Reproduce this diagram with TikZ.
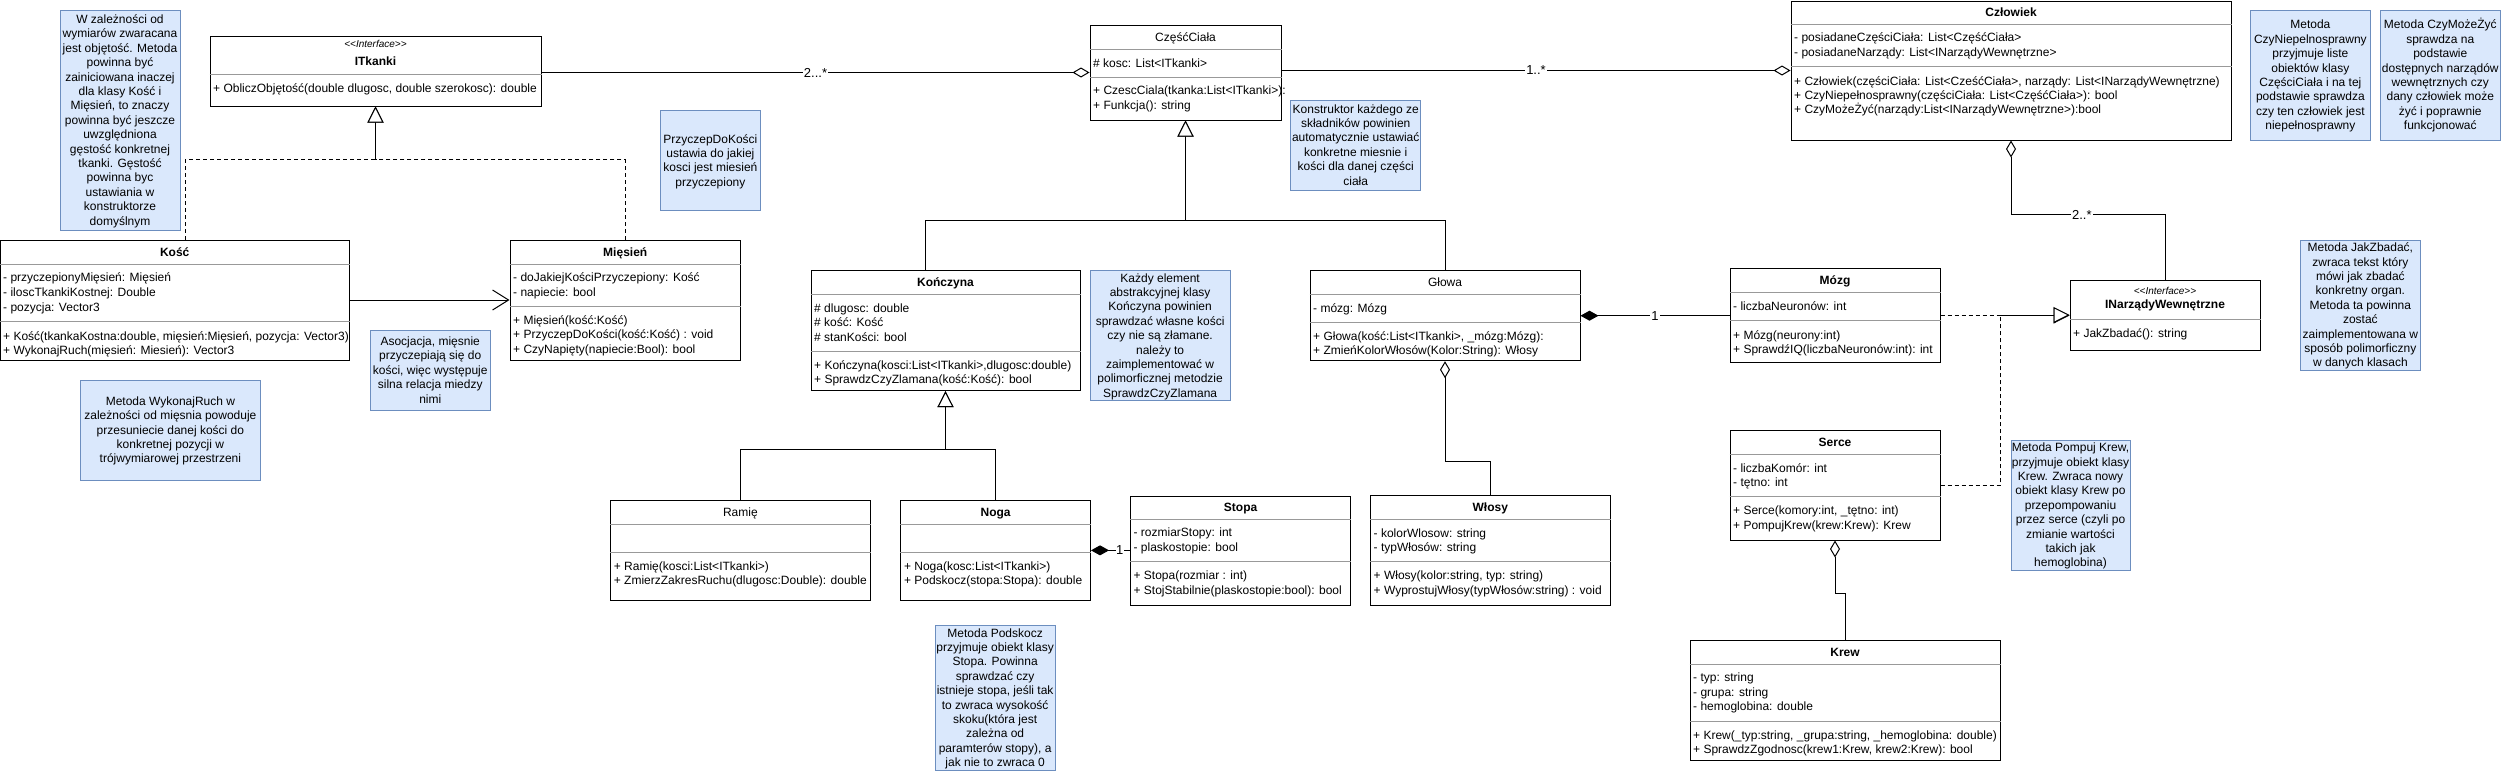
\documentclass[tikz,border=0pt]{standalone}
\usepackage{fontspec}
\setmainfont{Liberation Sans}
\usetikzlibrary{arrows.meta,fit}
\definecolor{notef}{HTML}{DAE8FC}
\definecolor{noteb}{HTML}{6C8EBF}
\newcommand\fsz{\fontsize{12}{14.4}\selectfont}
\newcommand\mylw[5]{\foreach \tx [count=\ii] in {#5} {\node[tl] (#1\ii) at (#2,{#3+4+(\ii-1)*#4}) {\tx};}}
\newcommand\mylc[5]{\foreach \tx [count=\ii] in {#5} {\node[tc] (#1\ii) at (#2,{#3+4+(\ii-1)*#4}) {\tx};}}
\newcommand\mydv[2]{\draw[dv] (#1.west |- 0,#2) -- (#1.east |- 0,#2);}
\newcommand\ster{<\kern0pt<Interface>\kern0pt>}
\tikzset{
  cls/.style={draw=black, line width=1pt, fill=white, inner sep=0pt},
  nt/.style={draw=noteb, line width=1pt, fill=notef, inner sep=0pt},
  dv/.style={draw=black!40, line width=1pt},
  tl/.style={anchor=base west, inner sep=0pt, font=\fsz},
  tc/.style={anchor=base, inner sep=0pt, font=\fsz},
  ttl/.style={anchor=base, inner sep=0pt, font=\fsz\bfseries},
  ttr/.style={anchor=base, inner sep=0pt, font=\fsz},
  stt/.style={anchor=base, inner sep=0pt, font=\fontsize{10}{12}\selectfont\itshape},
  lbl/.style={fill=white, inner sep=1pt, font=\fontsize{13}{15}\selectfont},
  conn/.style={line width=1pt, draw=black},
  realize/.style={conn, dash pattern=on 4pt off 3pt, -{Triangle[length=16pt,width=16pt,fill=white]}},
  gen/.style={conn, -{Triangle[length=16pt,width=16pt,fill=white]}},
  assoc/.style={conn, -{Straight Barb[length=16pt,width=20pt]}},
  aggr/.style={conn, {Diamond[length=17pt,width=10pt,fill=white]}-},
  aggrE/.style={conn, -{Diamond[length=17pt,width=10pt,fill=white]}},
  comp/.style={conn, {Diamond[length=18pt,width=10pt]}-},
}
\begin{document}
\begin{tikzpicture}[x=1pt,y=-1pt]
\useasboundingbox (0,0) rectangle (2501,772);
\fill[white] (0,0) rectangle (2501,772);

% ---------- notes ----------
\node[nt, fit={(60,10) (180,230.7)}] (n1) {};
\mylc{n1l}{120}{19.5}{14.4}{{W zależności od},{wymiarów zwaracana},{jest objętość. Metoda},{powinna być},{zainiciowana inaczej},{dla klasy Kość i},{Mięsień, to znaczy},{powinna być jeszcze},{uwzględniona},{gęstość konkretnej},{tkanki. Gęstość},{powinna byc},{ustawiania w},{konstruktorze},{domyślnym}}
\node[nt, fit={(660,110.7) (760.7,210.7)}] (n2) {};
\mylc{n2l}{710.35}{139.1}{14.4}{{PrzyczepDoKości},{ustawia do jakiej},{kosci jest miesień},{przyczepiony}}
\node[nt, fit={(1290.7,100) (1420.7,190)}] (n3) {};
\mylc{n3l}{1355.7}{109}{14.4}{{Konstruktor każdego ze},{składników powinien},{automatycznie ustawiać},{konkretne miesnie i},{kości dla danej części},{ciała}}
\node[nt, fit={(1090,270.7) (1230.3,400.7)}] (n4) {};
\mylc{n4l}{1160.15}{278.1}{14.4}{{Każdy element},{abstrakcyjnej klasy},{Kończyna powinien},{sprawdzać własne kości},{czy nie są złamane.},{należy to},{zaimplementować w},{polimorficznej metodzie},{SprawdzCzyZlamana}}
\node[nt, fit={(2250,10.7) (2370.7,140)}] (n5) {};
\mylc{n5l}{2310.35}{24.95}{14.4}{{Metoda},{CzyNiepelnosprawny},{przyjmuje liste},{obiektów klasy},{CzęściCiała i na tej},{podstawie sprawdza},{czy ten człowiek jest},{niepełnosprawny}}
\node[nt, fit={(2380,10.7) (2500.5,140)}] (n6) {};
\mylc{n6l}{2440.25}{24.95}{14.4}{{Metoda CzyMożeŻyć},{sprawdza na},{podstawie},{dostępnych narządów},{wewnętrznych czy},{dany człowiek może},{żyć i poprawnie},{funkcjonować}}
\node[nt, fit={(2300,240) (2420.7,370.7)}] (n7) {};
\mylc{n7l}{2360.35}{247.75}{14.4}{{Metoda JakZbadać,},{zwraca tekst który},{mówi jak zbadać},{konkretny organ.},{Metoda ta powinna},{zostać},{zaimplementowana w},{sposób polimorficzny},{w danych klasach}}
\node[nt, fit={(370,330) (490.5,410.7)}] (n8) {};
\mylc{n8l}{430.25}{341.55}{14.4}{{Asocjacja, mięsnie},{przyczepiają się do},{kości, więc występuje},{silna relacja miedzy},{nimi}}
\node[nt, fit={(80,380) (260.8,480)}] (n9) {};
\mylc{n9l}{170.4}{401.2}{14.4}{{Metoda WykonajRuch w},{zależności od mięsnia powoduje},{przesuniecie danej kości do},{konkretnej pozycji w},{trójwymiarowej przestrzeni}}
\node[nt, fit={(935.3,625) (1055,770.7)}] (n10) {};
\mylc{n10l}{995.15}{633.05}{14.4}{{Metoda Podskocz},{przyjmuje obiekt klasy},{Stopa. Powinna},{sprawdzać czy},{istnieje stopa, jeśli tak},{to zwraca wysokość},{skoku(która jest},{zależna od},{paramterów stopy), a},{jak nie to zwraca 0}}
\node[nt, fit={(2011,440) (2130,570.7)}] (n11) {};
\mylc{n11l}{2070.5}{447.75}{14.4}{{Metoda Pompuj Krew,},{przyjmuje obiekt klasy},{Krew. Zwraca nowy},{obiekt klasy Krew po},{przepompowaniu},{przez serce (czyli po},{zmianie wartości},{takich jak},{hemoglobina)}}

% ---------- classes ----------
% ITkanki
\node[cls, fit={(210,36) (541,106)}] (itk) {};
\mydv{itk}{74}
\node[stt] (itk-s) at (itk.north |- 0,47.5) {\ster};
\node[ttl] (itk-t) at (itk.north |- 0,65) {ITkanki};
\mylw{itkm}{213}{88}{14.4}{{+ ObliczObjętość(double dlugosc, double szerokosc): double}}

% CzescCiala
\node[cls, fit={(1090,25) (1281,120)}] (cc) {};
\mydv{cc}{49}\mydv{cc}{77}
\node[ttr] (cc-t) at (cc.north |- 0,41) {CzęśćCiała};
\mylw{cca}{1093}{63}{15}{{\# kosc: List<ITkanki>}}
\mylw{ccm}{1093}{90}{15}{{+ CzescCiala(tkanka:List<ITkanki>):},{+ Funkcja(): string}}

% Czlowiek
\node[cls, fit={(1791,1) (2231,140)}] (czl) {};
\mydv{czl}{24}\mydv{czl}{66}
\node[ttl] (czl-t) at (czl.north |- 0,16) {Człowiek};
\mylw{czla}{1794}{37}{15}{{- posiadaneCzęściCiała: List<CzęśćCiała>},{- posiadaneNarządy: List<INarządyWewnętrzne>}}
\mylw{czlm}{1794}{81}{14}{{+ Człowiek(częściCiała: List<CześćCiała>, narządy: List<INarządyWewnętrzne)},{+ CzyNiepełnosprawny(częściCiała: List<CzęśćCiała>): bool},{+ CzyMożeŻyć(narządy:List<INarządyWewnętrzne>):bool}}

% INarzadyWewnetrzne
\node[cls, fit={(2070,280) (2260,350)}] (narz) {};
\mydv{narz}{319}
\node[stt] (narz-s) at (narz.north |- 0,294.5) {\ster};
\node[ttl] (narz-t) at (narz.north |- 0,308.5) {INarządyWewnętrzne};
\mylw{narzm}{2073}{333}{14}{{+ JakZbadać(): string}}

% Kosc
\node[cls, fit={(0.5,240) (349,360)}] (kosc) {};
\mydv{kosc}{264}\mydv{kosc}{321}
\node[ttl] (kosc-t) at (kosc.north |- 0,256) {Kość};
\mylw{kosca}{3}{277.7}{15}{{- przyczepionyMięsień: Mięsień},{- iloscTkankiKostnej: Double},{- pozycja: Vector3}}
\mylw{koscm}{3}{336}{14.5}{{+ Kość(tkankaKostna:double, mięsień:Mięsień, pozycja: Vector3)},{+ WykonajRuch(mięsień: Miesień): Vector3}}

% Miesien
\node[cls, fit={(510,240) (740.5,360)}] (mies) {};
\mydv{mies}{264}\mydv{mies}{306}
\node[ttl] (mies-t) at (mies.north |- 0,256) {Mięsień};
\mylw{miesa}{513}{277.7}{15}{{- doJakiejKościPrzyczepiony: Kość},{- napiecie: bool}}
\mylw{miesm}{513}{320}{14.5}{{+ Mięsień(kość:Kość)},{+ PrzyczepDoKości(kość:Kość) : void},{+ CzyNapięty(napiecie:Bool): bool}}

% Konczyna
\node[cls, fit={(811,270.7) (1080,390.7)}] (konc) {};
\mydv{konc}{294.3}\mydv{konc}{351.7}
\node[ttl] (konc-t) at (konc.north |- 0,286.5) {Kończyna};
\mylw{konca}{814}{308.3}{14.4}{{\# dlugosc: double},{\# kość: Kość},{\# stanKości: bool}}
\mylw{koncm}{814}{365}{14.3}{{+ Kończyna(kosci:List<ITkanki>,dlugosc:double)},{+ SprawdzCzyZlamana(kość:Kość): bool}}

% Glowa
\node[cls, fit={(1310,270.7) (1580,360.7)}] (glowa) {};
\mydv{glowa}{294.3}\mydv{glowa}{322.3}
\node[ttr] (glowa-t) at (glowa.north |- 0,286.5) {Głowa};
\mylw{glowaa}{1313}{308.3}{14.4}{{- mózg: Mózg}}
\mylw{glowam}{1313}{336}{14}{{+ Głowa(kość:List<ITkanki>, \_mózg:Mózg):},{+ ZmieńKolorWłosów(Kolor:String): Włosy}}

% Mozg
\node[cls, fit={(1730,268.3) (1940,362.7)}] (mozg) {};
\mydv{mozg}{292.7}\mydv{mozg}{320.7}
\node[ttl] (mozg-t) at (mozg.north |- 0,284.5) {Mózg};
\mylw{mozga}{1733}{306.7}{14.4}{{- liczbaNeuronów: int}}
\mylw{mozgm}{1733}{335}{14.3}{{+ Mózg(neurony:int)},{+ SprawdźIQ(liczbaNeuronów:int): int}}

% Wlosy
\node[cls, fit={(1370.5,495.7) (1610,605)}] (wlosy) {};
\mydv{wlosy}{519.3}\mydv{wlosy}{561.7}
\node[ttl] (wlosy-t) at (wlosy.north |- 0,511.5) {Włosy};
\mylw{wlosya}{1373.5}{533.3}{14.4}{{- kolorWlosow: string},{- typWłosów: string}}
\mylw{wlosym}{1373.5}{575}{15}{{+ Włosy(kolor:string, typ: string)},{+ WyprostujWłosy(typWłosów:string) : void}}

% Serce
\node[cls, fit={(1730,430.7) (1940,540)}] (serce) {};
\mydv{serce}{454}\mydv{serce}{496}
\node[ttl] (serce-t) at (serce.north |- 0,446.3) {Serce};
\mylw{sercea}{1733}{468.3}{14}{{- liczbaKomór: int},{- tętno: int}}
\mylw{sercem}{1733}{510}{15}{{+ Serce(komory:int, \_tętno: int)},{+ PompujKrew(krew:Krew): Krew}}

% Krew
\node[cls, fit={(1690,640) (2000,760)}] (krew) {};
\mydv{krew}{664.3}\mydv{krew}{721.7}
\node[ttl] (krew-t) at (krew.north |- 0,656) {Krew};
\mylw{krewa}{1693}{677.7}{14.5}{{- typ: string},{- grupa: string},{- hemoglobina: double}}
\mylw{krewm}{1693}{735}{14.3}{{+ Krew(\_typ:string, \_grupa:string, \_hemoglobina: double)},{+ SprawdzZgodnosc(krew1:Krew, krew2:Krew): bool}}

% Ramie
\node[cls, fit={(610.7,500.7) (870,600)}] (ramie) {};
\mydv{ramie}{524.3}\mydv{ramie}{552.3}
\node[ttr] (ramie-t) at (ramie.north |- 0,516.5) {Ramię};
\mylw{ramiem}{613.7}{566}{14}{{+ Ramię(kosci:List<ITkanki>)},{+ ZmierzZakresRuchu(dlugosc:Double): double}}

% Noga
\node[cls, fit={(900.8,500.7) (1090.5,600)}] (noga) {};
\mydv{noga}{524.3}\mydv{noga}{552.3}
\node[ttl] (noga-t) at (noga.north |- 0,516.5) {Noga};
\mylw{nogam}{903.8}{566}{14}{{+ Noga(kosc:List<ITkanki>)},{+ Podskocz(stopa:Stopa): double}}

% Stopa
\node[cls, fit={(1130.4,496) (1350.8,605)}] (stopa) {};
\mydv{stopa}{519.3}\mydv{stopa}{561}
\node[ttl] (stopa-t) at (stopa.north |- 0,511.7) {Stopa};
\mylw{stopaa}{1133.4}{532.7}{15}{{- rozmiarStopy: int},{- plaskostopie: bool}}
\mylw{stopam}{1133.4}{575}{15}{{+ Stopa(rozmiar : int)},{+ StojStabilnie(plaskostopie:bool): bool}}

% ---------- connectors ----------
\draw[realize] ([xshift=185pt]kosc.north west) -- ++(0,-80) -| (itk.south);
\draw[realize] (mies.north) -- ++(0,-80) -| (itk.south);
\draw[assoc] (kosc.east) -- (mies.west);
\draw[aggr] (cc.west) -- (cc.west -| itk.east) node[lbl, midway] {2...*};
\draw[aggr] (czl.west) -- (czl.west -| cc.east) node[lbl, midway] {1..*};
\draw[gen] ([xshift=-20.5pt]konc.north) -- ++(0,-50) -| (cc.south);
\draw[gen] (glowa.north) -- ++(0,-50) -| (cc.south);
\draw[gen] (ramie.north) -- ++(0,-50.5) -| (konc.south);
\draw[gen] (noga.north) -- ++(0,-50.5) -| (konc.south);
\draw[comp] (noga.east) -- (noga.east -| stopa.west) node[lbl, pos=0.74, inner sep=0.5pt] {1};
\draw[comp] (glowa.east) -- (glowa.east -| mozg.west) node[lbl, midway] {1};
\draw[aggrE] (wlosy.north) -- ++(0,-34) -| (glowa.south);
\draw[aggrE] (narz.north) -- ++(0,-65) -| node[lbl, pos=0.27] {2..*} (czl.south);
\draw[realize] (mozg.east) -- (mozg.east -| narz.west);
\draw[realize] (serce.east) -- ++(60,0) |- (narz.west);
\draw[aggrE] (krew.north) -- ++(0,-46) -| (serce.south);
\end{tikzpicture}
\end{document}
